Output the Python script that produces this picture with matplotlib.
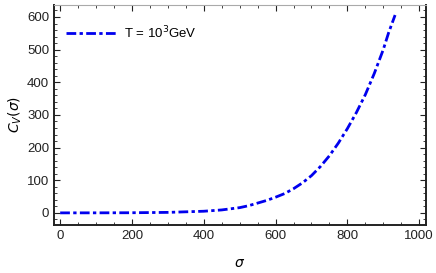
import matplotlib
matplotlib.use("Agg")
import matplotlib.pyplot as plt
from matplotlib.ticker import MultipleLocator

sigma = [0, 100, 200, 300, 400, 450, 500, 525, 550, 575, 600, 625, 650, 675, 700,
         725, 750, 775, 800, 825, 850, 875, 900, 915, 933]
cv = [0, 0.1, 0.4, 1.5, 5, 9, 16, 22, 30, 38, 48, 59, 74, 92, 114,
      142, 175, 214, 258, 307, 362, 427, 500, 552, 606]
label = r"T = 10$^3$GeV"

plt.rcParams['font.family'] = ['Liberation Sans', 'DejaVu Sans']
plt.rcParams['mathtext.fontset'] = 'dejavusans'

fig = plt.figure(figsize=(4.36, 2.73), dpi=100)
ax = fig.add_axes([0.124, 0.176, 0.853, 0.806])

ax.plot(sigma, cv, color='#0000ee', lw=2, ls=(0, (3.5, 1.2, 1.2, 1.2)), label=label)

ax.set_xlim(-17, 1019)
ax.set_ylim(-37, 637)
ax.xaxis.set_major_locator(MultipleLocator(200))
ax.xaxis.set_minor_locator(MultipleLocator(50))
ax.yaxis.set_major_locator(MultipleLocator(100))
ax.yaxis.set_minor_locator(MultipleLocator(20))
ax.tick_params(which='both', direction='in', top=True, right=True, labelsize=9.5,
               colors='#222222', labelcolor='#222222')
ax.tick_params(which='major', length=4, width=0.8)
ax.tick_params(which='minor', length=2, width=0.6)
for side in ['left', 'bottom', 'right']:
    ax.spines[side].set_linewidth(1.4)
    ax.spines[side].set_color('#222222')
ax.spines['top'].set_linewidth(0.8)
ax.spines['top'].set_color('#aaaaaa')

ax.set_xlabel(r"$\sigma$", fontsize=10, labelpad=10)
ax.set_ylabel(r"$C_V(\sigma)$", fontsize=10, labelpad=2)

ax.legend(loc='upper left', frameon=False, fontsize=9.5, handlelength=3.8,
          handletextpad=0.6, bbox_to_anchor=(0.0, 0.965))

fig.savefig("out.png", dpi=100)
